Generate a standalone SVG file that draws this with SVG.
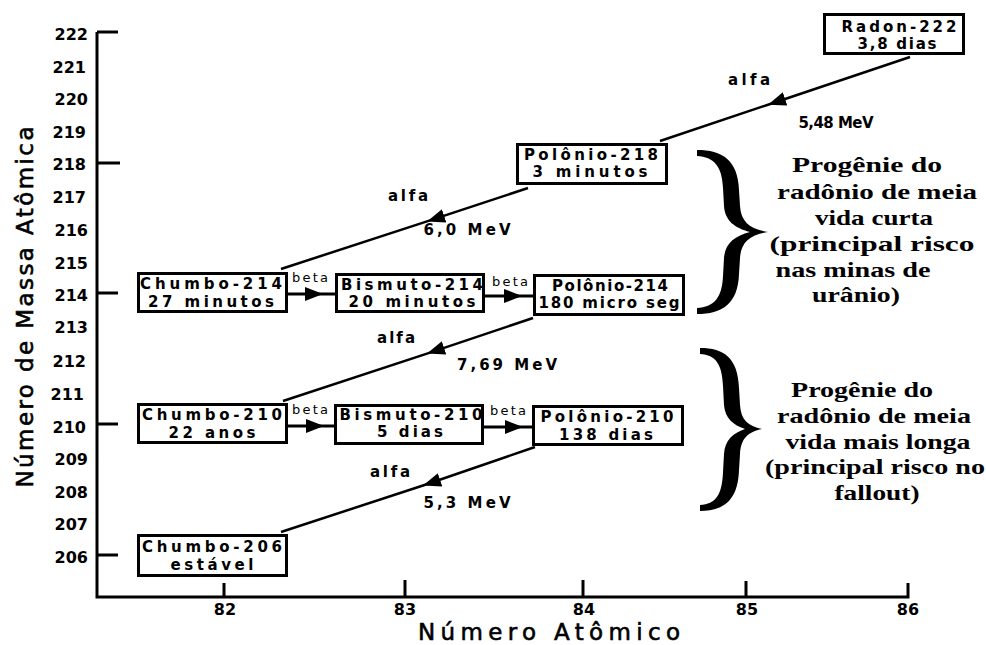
<svg xmlns="http://www.w3.org/2000/svg" width="986" height="645" viewBox="0 0 986 645">
  <defs>
    <!-- filled arrowhead; the tip sits on the reference point -->
    <marker id="head" viewBox="0 0 18 14" refX="18" refY="7" markerWidth="18" markerHeight="14" orient="auto" markerUnits="userSpaceOnUse">
      <path d="M0 0 L18 7 L0 14 Z" fill="#000"/>
    </marker>
    <style>
      .axis { stroke: #000; stroke-width: 3; fill: none; }
      .box { fill: #fff; stroke: #000; stroke-width: 3; }
      .alpha { stroke: #000; stroke-width: 2.5; fill: none; marker-mid: url(#head); }
      .beta { stroke: #000; stroke-width: 3; fill: none; marker-mid: url(#head); }
      .node { font-family: "DejaVu Sans", "Liberation Sans", sans-serif; font-weight: bold; font-size: 15px; text-anchor: middle; dominant-baseline: central; fill: #000; }
      .tick { font-family: "DejaVu Sans", "Liberation Sans", sans-serif; font-weight: bold; font-size: 16px; fill: #000; dominant-baseline: central; }
      .ylab { text-anchor: end; }
      .xlab { text-anchor: middle; }
      .title { font-family: "DejaVu Sans", "Liberation Sans", sans-serif; font-size: 23px; text-anchor: middle; fill: #000; stroke: #000; stroke-width: 0.6; }
      .decay { font-family: "DejaVu Sans", "Liberation Sans", sans-serif; font-weight: bold; font-size: 15px; text-anchor: middle; dominant-baseline: central; fill: #000; }
      .betalab { font-family: "DejaVu Sans", "Liberation Sans", sans-serif; font-size: 13px; text-anchor: middle; dominant-baseline: central; fill: #000; }
      .note { font-family: "Liberation Serif", "Times New Roman", serif; font-weight: bold; font-size: 21px; text-anchor: middle; fill: #000; }
      .brace { fill: #000; }
    </style>
  </defs>

  <rect width="986" height="645" fill="#fff"/>

  <!-- axes and ticks -->
  <g id="axes">
    <path class="axis" d="M97 32 V597 H908 V583"/>
    <path class="axis" d="M97 32 H118 M97 163 H120 M97 293 H118 M97 424 H118 M97 555 H118"/>
    <path class="axis" d="M224 597 V583 M405 597 V580 M583 597 V580 M746 597 V581"/>
    <g class="tick ylab">
      <text x="88" y="34">222</text>
      <text x="86" y="67">221</text>
      <text x="88" y="99">220</text>
      <text x="86" y="132">219</text>
      <text x="86" y="164">218</text>
      <text x="86" y="197">217</text>
      <text x="88" y="230">216</text>
      <text x="88" y="263">215</text>
      <text x="88" y="295">214</text>
      <text x="88" y="327">213</text>
      <text x="86" y="361">212</text>
      <text x="84" y="394">211</text>
      <text x="86" y="427">210</text>
      <text x="88" y="459">209</text>
      <text x="88" y="492">208</text>
      <text x="88" y="524">207</text>
      <text x="88" y="557">206</text>
    </g>
    <g class="tick xlab">
      <text x="225" y="609">82</text>
      <text x="405" y="609">83</text>
      <text x="584" y="609">84</text>
      <text x="747" y="609">85</text>
      <text x="908" y="609">86</text>
    </g>
    <text class="title" x="549" y="640" textLength="262" lengthAdjust="spacing">Número Atômico</text>
    <text class="title" transform="translate(33 307) rotate(-90)" x="0" y="0" textLength="361" lengthAdjust="spacing">Número de Massa Atômica</text>
  </g>

  <!-- decay paths -->
  <g id="connectors">
    <path class="alpha" d="M910 57 L768 104.7 L660 141"/>
    <path class="alpha" d="M528 188 L427 221.4 L281 269"/>
    <path class="alpha" d="M533 318 L427 353.6 L283 401"/>
    <path class="alpha" d="M535 447 L423 485.5 L281 532"/>
    <path class="beta" d="M288 294 L323 294 L336 294"/>
    <path class="beta" d="M485 296 L522 296 L534 296"/>
    <path class="beta" d="M288 426 L324 426 L335 426"/>
    <path class="beta" d="M484 427 L523 427 L533 427"/>
    <g class="decay">
      <text x="749" y="80" textLength="42">alfa</text>
      <text x="836" y="123" textLength="75">5,48 MeV</text>
      <text x="408" y="196" textLength="40">alfa</text>
      <text x="467" y="230" textLength="87">6,0 MeV</text>
      <text x="396" y="338" textLength="38">alfa</text>
      <text x="507" y="365" textLength="100">7,69 MeV</text>
      <text x="390" y="472" textLength="40">alfa</text>
      <text x="467" y="503" textLength="87">5,3 MeV</text>
    </g>
    <g class="betalab">
      <text x="310" y="277" textLength="36">beta</text>
      <text x="510" y="281" textLength="36">beta</text>
      <text x="310" y="409" textLength="36">beta</text>
      <text x="508" y="410" textLength="36">beta</text>
    </g>
  </g>

  <!-- nuclides -->
  <g id="radon-222">
    <rect class="box" x="824.5" y="14.5" width="139" height="39"/>
    <text class="node" x="899" y="27" textLength="115">Radon-222</text>
    <text class="node" x="897" y="44" textLength="79">3,8 dias</text>
  </g>
  <g id="polonio-218">
    <rect class="box" x="517.5" y="144.5" width="149" height="39"/>
    <text class="node" x="591" y="155" textLength="134">Polônio-218</text>
    <text class="node" x="590" y="172" textLength="115">3 minutos</text>
  </g>
  <g id="chumbo-214">
    <rect class="box" x="138.5" y="273.5" width="148" height="38"/>
    <text class="node" x="211" y="284" textLength="142">Chumbo-214</text>
    <text class="node" x="211" y="302" textLength="126">27 minutos</text>
  </g>
  <g id="bismuto-214">
    <rect class="box" x="336.5" y="274.5" width="147" height="37"/>
    <text class="node" x="412" y="285" textLength="142">Bismuto-214</text>
    <text class="node" x="412" y="302" textLength="127">20 minutos</text>
  </g>
  <g id="polonio-214">
    <rect class="box" x="534.5" y="275.5" width="149" height="39"/>
    <text class="node" x="610" y="286" textLength="116">Polônio-214</text>
    <text class="node" x="609" y="303" textLength="141">180 micro seg</text>
  </g>
  <g id="chumbo-210">
    <rect class="box" x="138.5" y="404.5" width="148" height="38"/>
    <text class="node" x="212" y="415" textLength="140">Chumbo-210</text>
    <text class="node" x="212" y="433" textLength="87">22 anos</text>
  </g>
  <g id="bismuto-210">
    <rect class="box" x="335.5" y="405.5" width="147" height="38"/>
    <text class="node" x="411" y="415" textLength="143">Bismuto-210</text>
    <text class="node" x="410" y="432" textLength="66">5 dias</text>
  </g>
  <g id="polonio-210">
    <rect class="box" x="533.5" y="406.5" width="149" height="38"/>
    <text class="node" x="607" y="417" textLength="133">Polônio-210</text>
    <text class="node" x="606" y="435" textLength="94">138 dias</text>
  </g>
  <g id="chumbo-206">
    <rect class="box" x="138.5" y="535.5" width="148" height="40"/>
    <text class="node" x="212" y="547" textLength="140">Chumbo-206</text>
    <text class="node" x="212" y="565" textLength="83">estável</text>
  </g>

  <!-- groupings -->
  <g id="short-lived">
    <path class="brace" d="M697 150 C722 150 738 160 739 190 L740 206 C741 222 750 229 768 232 C750 235 741 242 740 258 L739 274 C738 304 722 314 697 314 L697 308 C714 307 722 298 723 276 L724 258 C725 243 735 236 750 232 C735 228 725 221 724 206 L723 188 C722 166 714 157 697 156 Z"/>
    <g class="note">
      <text x="867" y="172" textLength="150" lengthAdjust="spacingAndGlyphs">Progênie do</text>
      <text x="877" y="199" textLength="200" lengthAdjust="spacingAndGlyphs">radônio de meia</text>
      <text x="874" y="225" textLength="118" lengthAdjust="spacingAndGlyphs">vida curta</text>
      <text x="872" y="251" textLength="205" lengthAdjust="spacingAndGlyphs">(principal risco</text>
      <text x="853" y="277" textLength="155" lengthAdjust="spacingAndGlyphs">nas minas de</text>
      <text x="856" y="302" textLength="88" lengthAdjust="spacingAndGlyphs">urânio)</text>
    </g>
  </g>
  <g id="long-lived">
    <path class="brace" d="M700 348 C724 348 738 358 739 388 L740 405 C741 420 748 426 762 429 C748 432 741 438 740 454 L739 470 C738 500 724 511 700 511 L700 505 C716 504 722 495 723 472 L724 454 C725 440 733 433 745 429 C733 425 725 418 724 405 L723 386 C722 364 716 355 700 354 Z"/>
    <g class="note">
      <text x="862" y="397" textLength="142" lengthAdjust="spacingAndGlyphs">Progênie do</text>
      <text x="874" y="423" textLength="194" lengthAdjust="spacingAndGlyphs">radônio de meia</text>
      <text x="878" y="449" textLength="185" lengthAdjust="spacingAndGlyphs">vida mais longa</text>
      <text x="875" y="474" textLength="220" lengthAdjust="spacingAndGlyphs">(principal risco no</text>
      <text x="877" y="500" textLength="85" lengthAdjust="spacingAndGlyphs">fallout)</text>
    </g>
  </g>
</svg>
